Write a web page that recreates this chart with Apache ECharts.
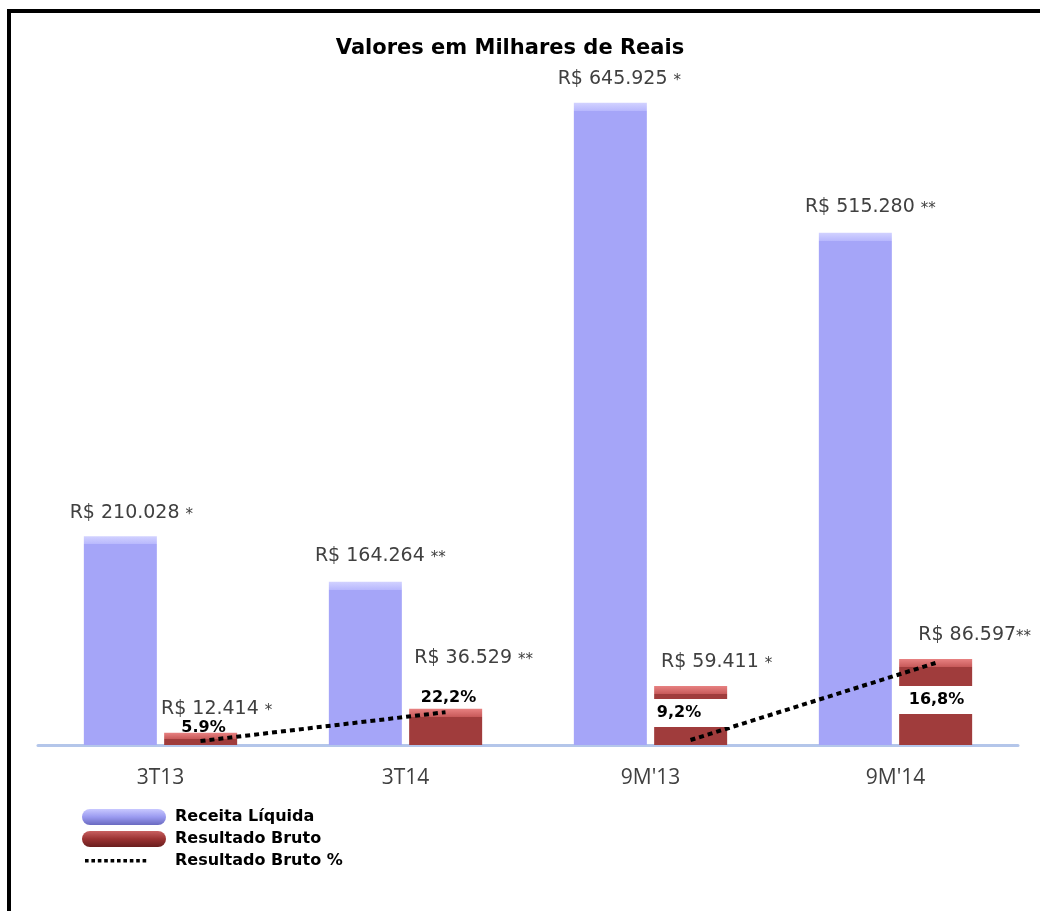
<!DOCTYPE html>
<html>
<head>
<meta charset="utf-8">
<script src="https://cdn.jsdelivr.net/npm/echarts@6/dist/echarts.min.js"></script>
<style>
html,body{margin:0;padding:0;background:#fff;}
#chart{width:1040px;height:911px;}
</style>
</head>
<body>
<div id="chart"></div>
<script>
// ---- data ----
const categories = ['3T13', '3T14', "9M'13", "9M'14"];
const receitaLiquida = [210028, 164264, 645925, 515280];   // R$ mil
const resultadoBruto = [12414, 36529, 59411, 86597];        // R$ mil
const receitaMarks = ['*', '**', '*', '**'];
const brutoMarks = ['*', '**', '*', '**'];
const brutoPctLabels = ['5.9%', '22,2%', '9,2%', '16,8%'];
const brutoPctLevels = [4000, 33000, 5000, 82500];           // plotted height of the % line
const yMax = 700000;

// ---- styling ----
const GRID = {left: 38, width: 980, top: 49, bottom: 166};
const BAR_W = 73, BAR_GAP_PX = 7;
const pxPerUnit = (911 - GRID.top - GRID.bottom) / yMax;
const bandPx = GRID.width / categories.length;
const lineShift = ((BAR_W + BAR_GAP_PX) / 2) / bandPx;   // % line sits over the second bar of each group
const valueFont = "'DejaVu Sans', sans-serif";
const catFont = "'Open Sans', 'Noto Sans', sans-serif";
const boldFont = "'DejaVu Sans', sans-serif";

function fmt(v) {
  return 'R$ ' + String(v).replace(/\B(?=(\d{3})+(?!\d))/g, '.');
}
function bevel(v, light, mid, main) {
  const h = v * pxPerUnit;
  const f = Math.min(0.5, 8 / h);
  return new echarts.graphic.LinearGradient(0, 0, 0, 1, [
    {offset: 0, color: light},
    {offset: f, color: mid},
    {offset: f, color: main},
    {offset: 1, color: main}
  ]);
}

const receitaLabelOffsets = [[11, 0], [15, -2], [9, 0], [15, -2]];
const brutoLabelOffsets = [[16, 0], [28, -27], [26, 0], [39, 0]];

const receitaData = receitaLiquida.map((v, i) => ({
  value: v,
  itemStyle: {color: bevel(v, '#d2d2ff', '#b8b8fd', '#a5a5f8')},
  label: {offset: receitaLabelOffsets[i], formatter: fmt(v) + ' {a|' + receitaMarks[i] + '}'}
}));
const brutoData = resultadoBruto.map((v, i) => ({
  value: v,
  itemStyle: {color: bevel(v, '#e88282', '#c85a5a', '#a03c3c')},
  label: {offset: brutoLabelOffsets[i], formatter: fmt(v) + (i === 3 ? '' : ' ') + '{a|' + brutoMarks[i] + '}'}
}));

const pctLabelStyles = [
  {position: 'top', distance: 5, offset: [3, 0]},
  {position: 'top', distance: 6, offset: [3, 0]},
  {position: 'top', distance: 13, offset: [0, 0], backgroundColor: '#fff', padding: [6, 30, 6, 7]},
  {position: 'bottom', distance: 23, offset: [1, 0], backgroundColor: '#fff', padding: [6, 11, 6, 11]}
];
function pctSeriesData(idxs) {
  return idxs.map(i => ({
    value: [i + lineShift, brutoPctLevels[i]],
    label: Object.assign({show: true, formatter: brutoPctLabels[i]}, pctLabelStyles[i])
  }));
}

const pillPath = 'path://M8,0 H76 A8,8 0 0 1 76,16 H8 A8,8 0 0 1 8,0 Z';
let dots = 'path://M0,0 L0,0 M84,16 L84,16';
for (let k = 0; k < 10; k++) { const x = 3 + k * 6.4; dots += ' M' + x.toFixed(1) + ',6 h3.6 v3.6 h-3.6 Z'; }

const pctSeriesBase = {
  name: 'Resultado Bruto %', type: 'line', xAxisIndex: 1, yAxisIndex: 0,
  symbol: 'circle', symbolSize: 0.01, showSymbol: true,
  lineStyle: {color: '#000', width: 4, type: [5, 4], cap: 'butt'},
  itemStyle: {color: '#000'},
  label: {fontFamily: boldFont, fontWeight: 'bold', fontSize: 16, color: '#000'},
  z: 5
};

const option = {
  animation: false,
  backgroundColor: '#fff',
  title: {
    text: 'Valores em Milhares de Reais',
    left: 505, top: 33, textAlign: 'center',
    textStyle: {fontFamily: boldFont, fontWeight: 'bold', fontSize: 21, color: '#000'}
  },
  graphic: [{
    type: 'rect', shape: {x: 9, y: 11, width: 1200, height: 1200},
    style: {fill: 'none', stroke: '#000', lineWidth: 4}, silent: true, z: 100
  }],
  legend: {
    orient: 'vertical', left: 77, top: 804,
    itemWidth: 84, itemHeight: 16, itemGap: 6,
    textStyle: {fontFamily: boldFont, fontWeight: 'bold', fontSize: 16, color: '#000', padding: [0, 0, 0, 4]},
    data: [
      {name: 'Receita Líquida', icon: pillPath, itemStyle: {color: new echarts.graphic.LinearGradient(0, 0, 0, 1, [{offset: 0, color: '#c8c8ff'}, {offset: 0.5, color: '#9a9af0'}, {offset: 1, color: '#6a6ac0'}])}},
      {name: 'Resultado Bruto', icon: pillPath, itemStyle: {color: new echarts.graphic.LinearGradient(0, 0, 0, 1, [{offset: 0, color: '#c86060'}, {offset: 0.5, color: '#9a3232'}, {offset: 1, color: '#6a1e1e'}])}},
      {name: 'Resultado Bruto %', icon: dots, itemStyle: {color: '#000'}}
    ]
  },
  grid: [
    {left: GRID.left, width: GRID.width, top: GRID.top, bottom: GRID.bottom}
  ],
  xAxis: [
    {
      type: 'category', data: categories, gridIndex: 0,
      axisLine: {lineStyle: {color: '#b4c6ea', width: 3}},
      axisTick: {show: false},
      axisLabel: {fontFamily: catFont, fontSize: 21, color: '#404040', margin: 23}
    },
    {type: 'value', gridIndex: 0, min: -0.5, max: categories.length - 0.5, show: false, splitLine: {show: false}}
  ],
  yAxis: [
    {type: 'value', min: 0, max: yMax, gridIndex: 0, show: false, splitLine: {show: false}}
  ],
  series: [
    {
      name: 'Receita Líquida', type: 'bar', xAxisIndex: 0, yAxisIndex: 0,
      barWidth: BAR_W, barGap: '10%',
      data: receitaData,
      label: {
        show: true, position: 'top', distance: 14,
        fontFamily: valueFont, fontSize: 19, color: '#404040',
        rich: {a: {fontFamily: valueFont, fontSize: 15, color: '#404040', padding: [4, 0, 0, 0]}}
      }
    },
    {
      name: 'Resultado Bruto', type: 'bar', xAxisIndex: 0, yAxisIndex: 0,
      barWidth: BAR_W, barGap: '10%',
      data: brutoData,
      label: {
        show: true, position: 'top', distance: 14,
        fontFamily: valueFont, fontSize: 19, color: '#404040',
        rich: {a: {fontFamily: valueFont, fontSize: 15, color: '#404040', padding: [4, 0, 0, 0]}}
      }
    },
    Object.assign({}, pctSeriesBase, {data: pctSeriesData([0, 1])}),
    Object.assign({}, pctSeriesBase, {data: pctSeriesData([2, 3])})
  ]
};

const chart = echarts.init(document.getElementById('chart'), null, {renderer: 'canvas'});
chart.setOption(option);
</script>
</body>
</html>
